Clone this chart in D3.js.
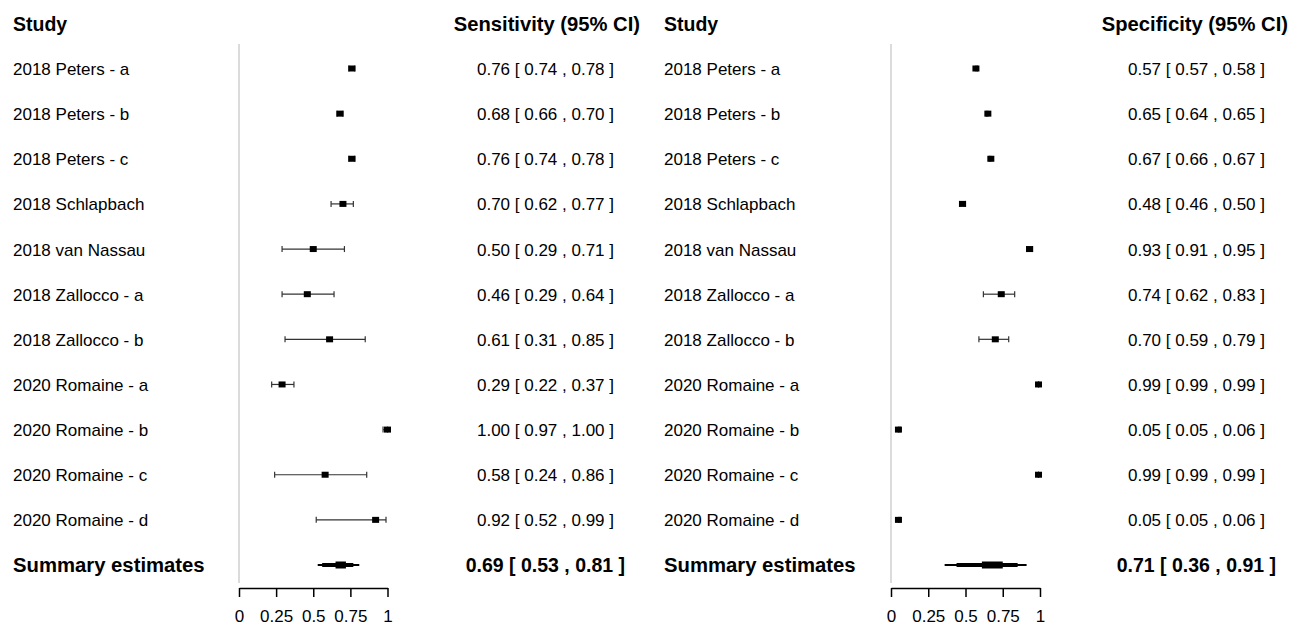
<!DOCTYPE html>
<html>
<head>
<meta charset="utf-8">
<script src="https://cdn.jsdelivr.net/npm/d3@7/dist/d3.min.js"></script>
<style>
  html, body { margin: 0; padding: 0; background: #fff; }
  svg text { font-family: "Liberation Sans", Arial, sans-serif; fill: #000; }
</style>
</head>
<body>
<svg id="chart" width="1291" height="627"></svg>
<script>
// Studies (shared by both panels)
const studies = [
  "2018 Peters - a", "2018 Peters - b", "2018 Peters - c", "2018 Schlapbach",
  "2018 van Nassau", "2018 Zallocco - a", "2018 Zallocco - b",
  "2020 Romaine - a", "2020 Romaine - b", "2020 Romaine - c", "2020 Romaine - d"
];

// Sensitivity with 95% CI
const sensEst = [0.76, 0.68, 0.76, 0.70, 0.50, 0.46, 0.61, 0.29, 1.00, 0.58, 0.92];
const sensLo  = [0.74, 0.66, 0.74, 0.62, 0.29, 0.29, 0.31, 0.22, 0.97, 0.24, 0.52];
const sensHi  = [0.78, 0.70, 0.78, 0.77, 0.71, 0.64, 0.85, 0.37, 1.00, 0.86, 0.99];

// Specificity with 95% CI
const specEst = [0.57, 0.65, 0.67, 0.48, 0.93, 0.74, 0.70, 0.99, 0.05, 0.99, 0.05];
const specLo  = [0.57, 0.64, 0.66, 0.46, 0.91, 0.62, 0.59, 0.99, 0.05, 0.99, 0.05];
const specHi  = [0.58, 0.65, 0.67, 0.50, 0.95, 0.83, 0.79, 0.99, 0.06, 0.99, 0.06];

// Pooled estimates: [estimate, CI low, CI high], plus inner bands
const sensSummary = [0.69, 0.53, 0.81];
const sensSummaryInner = [0.56, 0.77];
const sensSummaryCore  = [0.65, 0.72];
const specSummary = [0.71, 0.36, 0.91];
const specSummaryInner = [0.44, 0.85];
const specSummaryCore  = [0.61, 0.75];

const tickValues = [0, 0.25, 0.5, 0.75, 1];
const tickLabels = ["0", "0.25", "0.5", "0.75", "1"];

const svg = d3.select("#chart");
const fmt = d3.format(".2f");

const rowY = d3.scalePoint()
  .domain(d3.range(studies.length + 1))
  .range([68.5, 565]);

function drawPanel(opts) {
  const g = svg.append("g");
  const x = d3.scaleLinear().domain([0, 1]).range([opts.x0, opts.x1]);

  // headers
  g.append("text").attr("x", opts.labelX).attr("y", 31)
    .attr("font-size", 19.5).attr("font-weight", "bold").text("Study");
  g.append("text").attr("x", opts.headRight).attr("y", 31)
    .attr("font-size", 20.2).attr("font-weight", "bold")
    .attr("text-anchor", "end").text(opts.title);

  // reference line at 0
  g.append("line")
    .attr("x1", x(0)).attr("x2", x(0)).attr("y1", 44).attr("y2", 583)
    .attr("stroke", "#cfcfcf").attr("stroke-width", 1.5);

  const rows = studies.map((s, i) => ({ s, i, est: opts.est[i], lo: opts.lo[i], hi: opts.hi[i] }));

  // study labels
  g.selectAll(".lab").data(rows).join("text")
    .attr("x", opts.labelX).attr("y", d => rowY(d.i) + 6.5)
    .attr("font-size", 17).text(d => d.s);

  // value text
  g.selectAll(".val").data(rows).join("text")
    .attr("x", opts.valRight).attr("y", d => rowY(d.i) + 6.5)
    .attr("font-size", 17).attr("text-anchor", "end")
    .text(d => `${fmt(d.est)} [ ${fmt(d.lo)} , ${fmt(d.hi)} ]`);

  // CI whiskers
  const ci = g.selectAll(".ci").data(rows).join("g");
  ci.append("line")
    .attr("x1", d => x(d.lo)).attr("x2", d => x(d.hi))
    .attr("y1", d => rowY(d.i)).attr("y2", d => rowY(d.i))
    .attr("stroke", "#333").attr("stroke-width", 1.2);
  ci.append("line")
    .attr("x1", d => x(d.lo)).attr("x2", d => x(d.lo))
    .attr("y1", d => rowY(d.i) - 3).attr("y2", d => rowY(d.i) + 3)
    .attr("stroke", "#333").attr("stroke-width", 1.2);
  ci.append("line")
    .attr("x1", d => x(d.hi)).attr("x2", d => x(d.hi))
    .attr("y1", d => rowY(d.i) - 3).attr("y2", d => rowY(d.i) + 3)
    .attr("stroke", "#333").attr("stroke-width", 1.2);

  // point estimates
  g.selectAll(".pt").data(rows).join("rect")
    .attr("x", d => x(d.est) - 3.5).attr("y", d => rowY(d.i) - 3)
    .attr("width", 7).attr("height", 6).attr("fill", "#000");

  // summary row
  const sy = rowY(studies.length);
  const [sEst, sLo, sHi] = opts.summary;
  g.append("text").attr("x", opts.labelX).attr("y", sy + 7)
    .attr("font-size", 20.3).attr("font-weight", "bold").text("Summary estimates");
  g.append("text").attr("x", opts.sumRight).attr("y", sy + 7)
    .attr("font-size", 19.5).attr("font-weight", "bold").attr("text-anchor", "end")
    .text(`${fmt(sEst)} [ ${fmt(sLo)} , ${fmt(sHi)} ]`);
  g.append("line").attr("x1", x(sLo)).attr("x2", x(sHi))
    .attr("y1", sy).attr("y2", sy).attr("stroke", "#000").attr("stroke-width", 1.8);
  g.append("line").attr("x1", x(opts.inner[0])).attr("x2", x(opts.inner[1]))
    .attr("y1", sy).attr("y2", sy).attr("stroke", "#000").attr("stroke-width", 4);
  g.append("line").attr("x1", x(opts.core[0])).attr("x2", x(opts.core[1]))
    .attr("y1", sy).attr("y2", sy).attr("stroke", "#000").attr("stroke-width", 7);

  // x axis
  const axis = d3.axisBottom(x).tickValues(tickValues)
    .tickFormat((d, i) => tickLabels[i]).tickSize(9).tickSizeOuter(0).tickPadding(13);
  const ax = g.append("g").attr("transform", "translate(0,588)").call(axis);
  ax.select(".domain").attr("stroke", "#000").attr("stroke-width", 1.5);
  ax.selectAll(".tick line").attr("stroke", "#000").attr("stroke-width", 1.5);
  ax.selectAll(".tick text").attr("font-size", 17)
    .attr("font-family", "'Liberation Sans', Arial, sans-serif").attr("fill", "#000");
}

drawPanel({
  x0: 239, x1: 387.5, labelX: 13, headRight: 640, valRight: 614, sumRight: 625,
  title: "Sensitivity (95% CI)", est: sensEst, lo: sensLo, hi: sensHi,
  summary: sensSummary, inner: sensSummaryInner, core: sensSummaryCore
});
drawPanel({
  x0: 891, x1: 1040, labelX: 664, headRight: 1288, valRight: 1265, sumRight: 1276,
  title: "Specificity (95% CI)", est: specEst, lo: specLo, hi: specHi,
  summary: specSummary, inner: specSummaryInner, core: specSummaryCore
});
</script>
</body>
</html>
